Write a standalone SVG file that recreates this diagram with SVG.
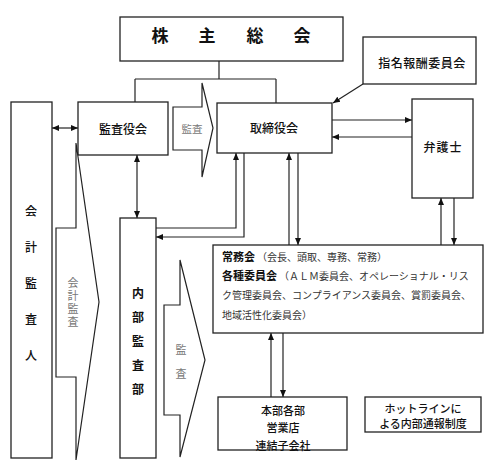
<svg xmlns="http://www.w3.org/2000/svg" width="491" height="466" viewBox="0 0 491 466">
<defs>
<marker id="ah" markerUnits="userSpaceOnUse" markerWidth="8" markerHeight="8" refX="7" refY="4" orient="auto-start-reverse">
<path d="M0,1 L7,4 L0,7 Z" fill="#111"/>
</marker>
<style>
.box{fill:#fff;stroke:#222;stroke-width:1.3}
.shape{fill:#fff;stroke:#222;stroke-width:1.2}
.ln{fill:none;stroke:#222;stroke-width:1.2}
.ar{fill:none;stroke:#222;stroke-width:1.2;marker-end:url(#ah)}
.ar2{fill:none;stroke:#222;stroke-width:1.2;marker-end:url(#ah);marker-start:url(#ah)}
text{font-family:"Noto Sans CJK JP","Liberation Sans",sans-serif;fill:#111;dominant-baseline:central;text-anchor:middle}
.lb{font-size:12px;font-weight:500}
.gr{fill:#777;font-size:10.5px}
.sm{font-size:10px;fill:#333;text-anchor:start}
.bd{font-size:11px;font-weight:bold;text-anchor:start}
.vt{writing-mode:vertical-rl}
</style>
</defs>
<rect width="491" height="466" fill="#fff"/>

<g id="connectors">
<path class="ln" d="M219,61 V79 M135,79 H276 M135,79 V102 M276,79 V103"/>
<path class="ar2" d="M52,128 H78"/>
<path class="ar" d="M363,84 L333,103"/>
<path class="ar" d="M332,120 H412"/>
<path class="ar" d="M412,137 H332"/>
<path class="ar2" d="M137,155 V218"/>
<path class="ar" d="M156,228 H236 V153"/>
<path class="ar" d="M244,153 V237 H156"/>
<path class="ar" d="M289,245 V153"/>
<path class="ar" d="M298,153 V245"/>
<path class="ar" d="M441,245 V198"/>
<path class="ar" d="M454,198 V245"/>
<path class="ar" d="M271,397 V333"/>
<path class="ar" d="M283,333 V397"/>
</g>

<g id="kabunushi">
<rect class="box" x="120" y="17" width="223" height="44"/>
<text x="160 207 255 302" y="34" style="font-size:17px;font-weight:bold">株主総会</text>
</g>

<g id="kansayakukai">
<rect class="box" x="78" y="102" width="90" height="53"/>
<text class="lb" x="123" y="128">監査役会</text>
</g>

<g id="kansa-arrow1">
<path class="shape" d="M173,107 H202 V83 L213,128 L202,177 V150 H173 Z"/>
<text class="gr" x="192" y="128">監査</text>
</g>

<g id="torishimariyakukai">
<rect class="box" x="217" y="103" width="115" height="50"/>
<text class="lb" x="274" y="127">取締役会</text>
</g>

<g id="shimei">
<rect class="box" x="363" y="37" width="113" height="47"/>
<text class="lb" x="422" y="62" style="letter-spacing:0.5px">指名報酬委員会</text>
</g>

<g id="bengoshi">
<rect class="box" x="412" y="99" width="61" height="99"/>
<text class="lb" x="443" y="146" style="letter-spacing:1px">弁護士</text>
</g>

<g id="kaikeikansanin">
<rect class="box" x="11" y="102" width="41" height="356"/>
<text class="lb" x="31" y="210">会</text>
<text class="lb" x="31" y="246">計</text>
<text class="lb" x="31" y="282">監</text>
<text class="lb" x="31" y="318">査</text>
<text class="lb" x="31" y="354">人</text>
</g>

<g id="kaikeikansa-arrow">
<path class="shape" d="M56,228 H76 V143 L99,302 L76,460 V377 H56 Z"/>
<text class="gr vt" x="73" y="303" style="font-size:11px;letter-spacing:2px">会計監査</text>
</g>

<g id="naibukansabu">
<rect class="box" x="120" y="218" width="36" height="240"/>
<text class="lb" x="138" y="292" style="font-weight:bold">内</text>
<text class="lb" x="138" y="316" style="font-weight:bold">部</text>
<text class="lb" x="138" y="340" style="font-weight:bold">監</text>
<text class="lb" x="138" y="364" style="font-weight:bold">査</text>
<text class="lb" x="138" y="388" style="font-weight:bold">部</text>
</g>

<g id="kansa-arrow2">
<path class="shape" d="M164,305 H180 V260 L205,360 L180,457 V415 H164 Z"/>
<text class="gr" x="181" y="349" style="font-size:11px">監</text>
<text class="gr" x="181" y="373" style="font-size:11px">査</text>
</g>

<g id="jomukai">
<rect class="box" x="213" y="245" width="270" height="88"/>
<text x="222" y="256"><tspan class="bd">常務会</tspan><tspan class="sm" dx="2">（会長、頭取、専務、常務）</tspan></text>
<text x="222" y="275"><tspan class="bd">各種委員会</tspan><tspan class="sm" dx="2">（ＡＬＭ委員会、オペレーショナル・リス</tspan></text>
<text class="sm" x="222" y="294">ク管理委員会、コンプライアンス委員会、賞罰委員会、</text>
<text class="sm" x="222" y="314">地域活性化委員会）</text>
</g>

<g id="honbu">
<rect class="box" x="218" y="397" width="129" height="53"/>
<text class="lb" x="283" y="410" style="font-size:11px">本部各部</text>
<text class="lb" x="283" y="427" style="font-size:11px">営業店</text>
<text class="lb" x="283" y="445" style="font-size:11px">連結子会社</text>
</g>

<g id="hotline">
<rect class="box" x="365" y="397" width="116" height="35"/>
<text class="lb" x="423" y="408" style="font-size:11px">ホットラインに</text>
<text class="lb" x="423" y="423" style="font-size:11px">よる内部通報制度</text>
</g>
</svg>
